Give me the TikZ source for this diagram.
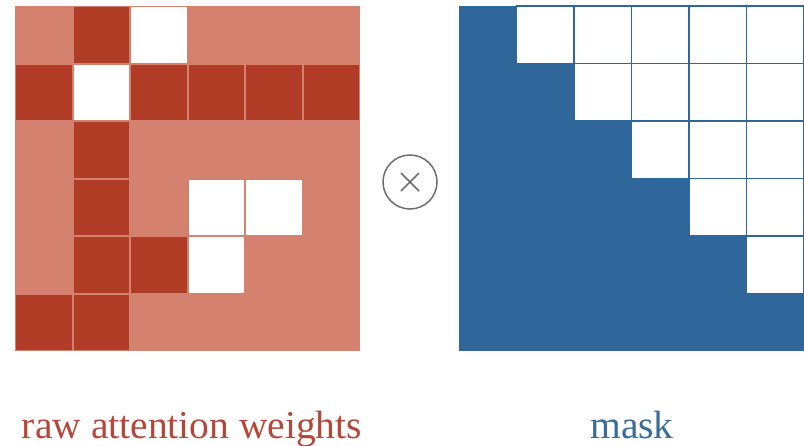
\documentclass[tikz,border=0pt]{standalone}
\usepackage{xcolor}
\usepackage{fontspec}
\setmainfont{Liberation Serif}
\usepackage{tikz}
\usetikzlibrary{positioning}
\definecolor{weightlight}{HTML}{D4826F}
\definecolor{weightdark}{HTML}{B13C25}
\definecolor{weighttext}{HTML}{B5473A}
\definecolor{maskblue}{HTML}{30679A}
\definecolor{masktext}{HTML}{3A6C9A}
\definecolor{opgray}{HTML}{6E6E6E}
\newcommand{\cellsz}{57.5}

\begin{document}
\begin{tikzpicture}[
    x=1pt,
    y=-1pt,
    strongcell/.style={fill=weightdark},
    zerocell/.style={fill=white},
    opencell/.style={fill=white, draw=maskblue, line width=1.3pt},
    caption/.style={anchor=base, font=\fontsize{39.5}{42}\selectfont}
]
\useasboundingbox (0,0) rectangle (804,445);
% raw attention weights
\fill[weightlight] (15,6) rectangle (360,351);
\foreach \c/\r in {1/0,0/1,2/1,3/1,4/1,5/1,1/2,1/3,1/4,2/4,0/5,1/5}
  \fill[strongcell] ({15+\cellsz*\c+1},{6+\cellsz*\r+1}) rectangle ++(55.5,55.5);
\foreach \c/\r in {2/0,1/1,3/3,4/3,3/4}
  \fill[zerocell] ({15+\cellsz*\c+1},{6+\cellsz*\r+1}) rectangle ++(55.5,55.5);
% mask
\fill[maskblue] (459,6) rectangle (804,351);
\foreach \r in {0,...,4} {
  \pgfmathtruncatemacro\cfirst{\r+1}
  \foreach \c in {\cfirst,...,5}
    \filldraw[opencell] ({459+\cellsz*\c},{6+\cellsz*\r}) rectangle ++(\cellsz,\cellsz);
}
% operator
\node[circle, draw=opgray, line width=1.5pt, minimum size=54pt, inner sep=0pt] (times) at (410,182) {};
\draw[opgray, line width=1.5pt] ([shift={(-9,-9)}]times.center) -- ([shift={(9,9)}]times.center);
\draw[opgray, line width=1.5pt] ([shift={(-9,9)}]times.center) -- ([shift={(9,-9)}]times.center);
\node[caption, text=weighttext] (rawlabel) at (192,438) {raw attention weights};
\node[caption, text=masktext] (masklabel) at (632,438) {mask};
\end{tikzpicture}
\end{document}
